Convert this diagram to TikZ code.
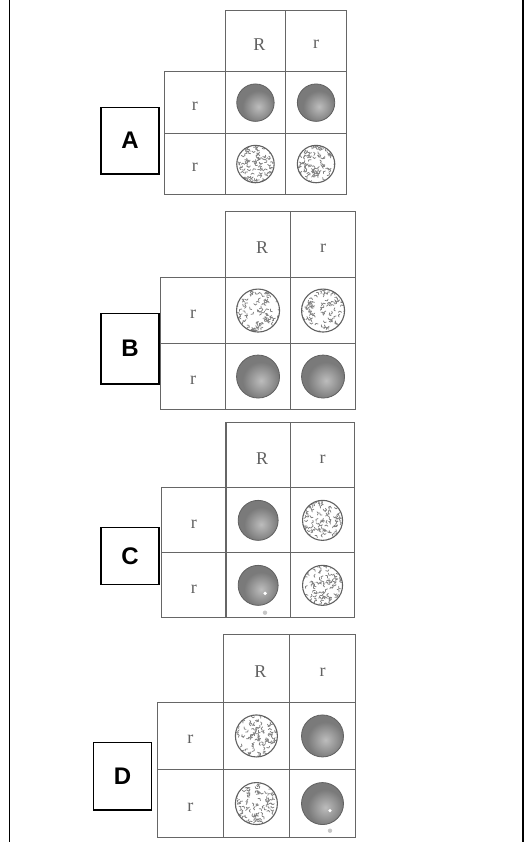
\documentclass[tikz,border=0pt]{standalone}
\usepackage{fontspec}
\setmainfont{Liberation Serif}
\newfontfamily\labelfont{Liberation Sans}
\tikzset{
  cellbox/.style={draw=black!60, line width=1.1pt, inner sep=0pt, anchor=north west},
  celltext/.style={inner sep=0pt, text=black!62, font=\fontsize{18}{18}\selectfont},
  labelbox/.style={draw=black, line width=1.5pt, inner sep=0pt, font=\labelfont\bfseries\fontsize{24}{24}\selectfont},
  ballline/.style={draw=black!62, line width=0.8pt},
  wrinkle/.style={draw=black!50, line width=0.75pt, line cap=round, line join=round},
  frameline/.style={draw=black, line width=1.6pt}
}
\newcommand\punnett[5]{%
  \node[cellbox, minimum width=#4pt, minimum height=#5pt] (#1h1) at (#2+#4, #3) {};
  \node[cellbox, minimum width=#4pt, minimum height=#5pt] (#1h2) at (#2+2*#4, #3) {};
  \node[cellbox, minimum width=#4pt, minimum height=#5pt] (#1l1) at (#2, #3+#5) {};
  \node[cellbox, minimum width=#4pt, minimum height=#5pt] (#1l2) at (#2, #3+2*#5) {};
  \node[cellbox, minimum width=#4pt, minimum height=#5pt] (#1c11) at (#2+#4, #3+#5) {};
  \node[cellbox, minimum width=#4pt, minimum height=#5pt] (#1c12) at (#2+2*#4, #3+#5) {};
  \node[cellbox, minimum width=#4pt, minimum height=#5pt] (#1c21) at (#2+#4, #3+2*#5) {};
  \node[cellbox, minimum width=#4pt, minimum height=#5pt] (#1c22) at (#2+2*#4, #3+2*#5) {};
  \node[celltext] (#1tR) at ([shift={(4pt,-3.5pt)}]#1h1.center) {R};
  \node[celltext] (#1tr) at ([shift={(0pt,-3.5pt)}]#1h2.center) {r};
  \node[celltext] (#1ta) at ([shift={(0pt,-3.5pt)}]#1l1.center) {r};
  \node[celltext] (#1tb) at ([shift={(0pt,-3.5pt)}]#1l2.center) {r};
}
\newcommand\smoothball[2]{%
  \fill[black!52] (#1) circle[radius=#2pt];
  \begin{scope}
    \clip (#1) circle[radius=#2pt];
    \shade[inner color=black!26, outer color=black!52] ([shift={(3pt,-4pt)}]#1) circle[radius=0.85*#2pt];
  \end{scope}
  \draw[ballline] (#1) circle[radius=#2pt];
}
\newcommand\wrinkball[2]{%
  \begin{scope}
    \clip (#1) circle[radius=#2pt];
    \fill[white] (#1) circle[radius=#2pt];
    \foreach \k in {1,...,85}{%
      \pgfmathsetmacro\wa{360*rnd}%
      \pgfmathsetmacro\wr{#2*0.98*sqrt(rnd)}%
      \pgfmathsetmacro\wd{360*rnd}%
      \draw[wrinkle] ([shift={(\wa:\wr pt)}]#1) -- ++(\wd:2.2pt) -- ++(\wd+75:1.8pt);
    }
  \end{scope}
  \draw[ballline, line width=1.1pt] (#1) circle[radius=#2pt];
}
\begin{document}
\begin{tikzpicture}[x=1pt, y=-1pt]
\pgfmathsetseed{4711}
\useasboundingbox (0,0) rectangle (526,842);
\fill[white] (0,0) rectangle (526,842);
\draw[frameline] (9.5,0) -- (9.5,842);
\draw[frameline] (522.7,0) -- (522.7,842);

% Panel A
\punnett{A}{164}{10}{60.6}{61.4}
\node[labelbox, minimum width=58pt, minimum height=66.7pt] (Alab) at (130,140.7) {A};
\smoothball{Ac11.center}{18.7}
\smoothball{Ac12.center}{18.7}
\wrinkball{Ac21.center}{18.7}
\wrinkball{Ac22.center}{18.7}

% Panel B
\punnett{B}{160}{211}{65}{66}
\node[labelbox, minimum width=58pt, minimum height=70.7pt] (Blab) at (130,348.7) {B};
\wrinkball{Bc11.center}{21.5}
\wrinkball{Bc12.center}{21.5}
\smoothball{Bc21.center}{21.5}
\smoothball{Bc22.center}{21.5}

% Panel C
\punnett{C}{161}{422.3}{64.4}{65}
\node[labelbox, minimum width=58pt, minimum height=57pt] (Clab) at (130,555.8) {C};
\smoothball{Cc11.center}{20}
\wrinkball{Cc12.center}{20}
\smoothball{Cc21.center}{20}
\wrinkball{Cc22.center}{20}
\fill[white] ([shift={(7pt,-8pt)}]Cc21.center) circle[radius=1.8pt];
\fill[black!22] (265,612.7) circle[radius=2.2pt];

% Panel D
\punnett{D}{156.7}{634}{66.1}{67.6}
\node[labelbox, minimum width=58.4pt, minimum height=67.7pt] (Dlab) at (122.5,776.2) {D};
\wrinkball{Dc11.center}{21}
\smoothball{Dc12.center}{21}
\wrinkball{Dc21.center}{21}
\smoothball{Dc22.center}{21}
\fill[white] ([shift={(7.5pt,-7pt)}]Dc22.center) circle[radius=1.8pt];
\fill[black!22] (330,830.7) circle[radius=2.2pt];
\end{tikzpicture}
\end{document}
